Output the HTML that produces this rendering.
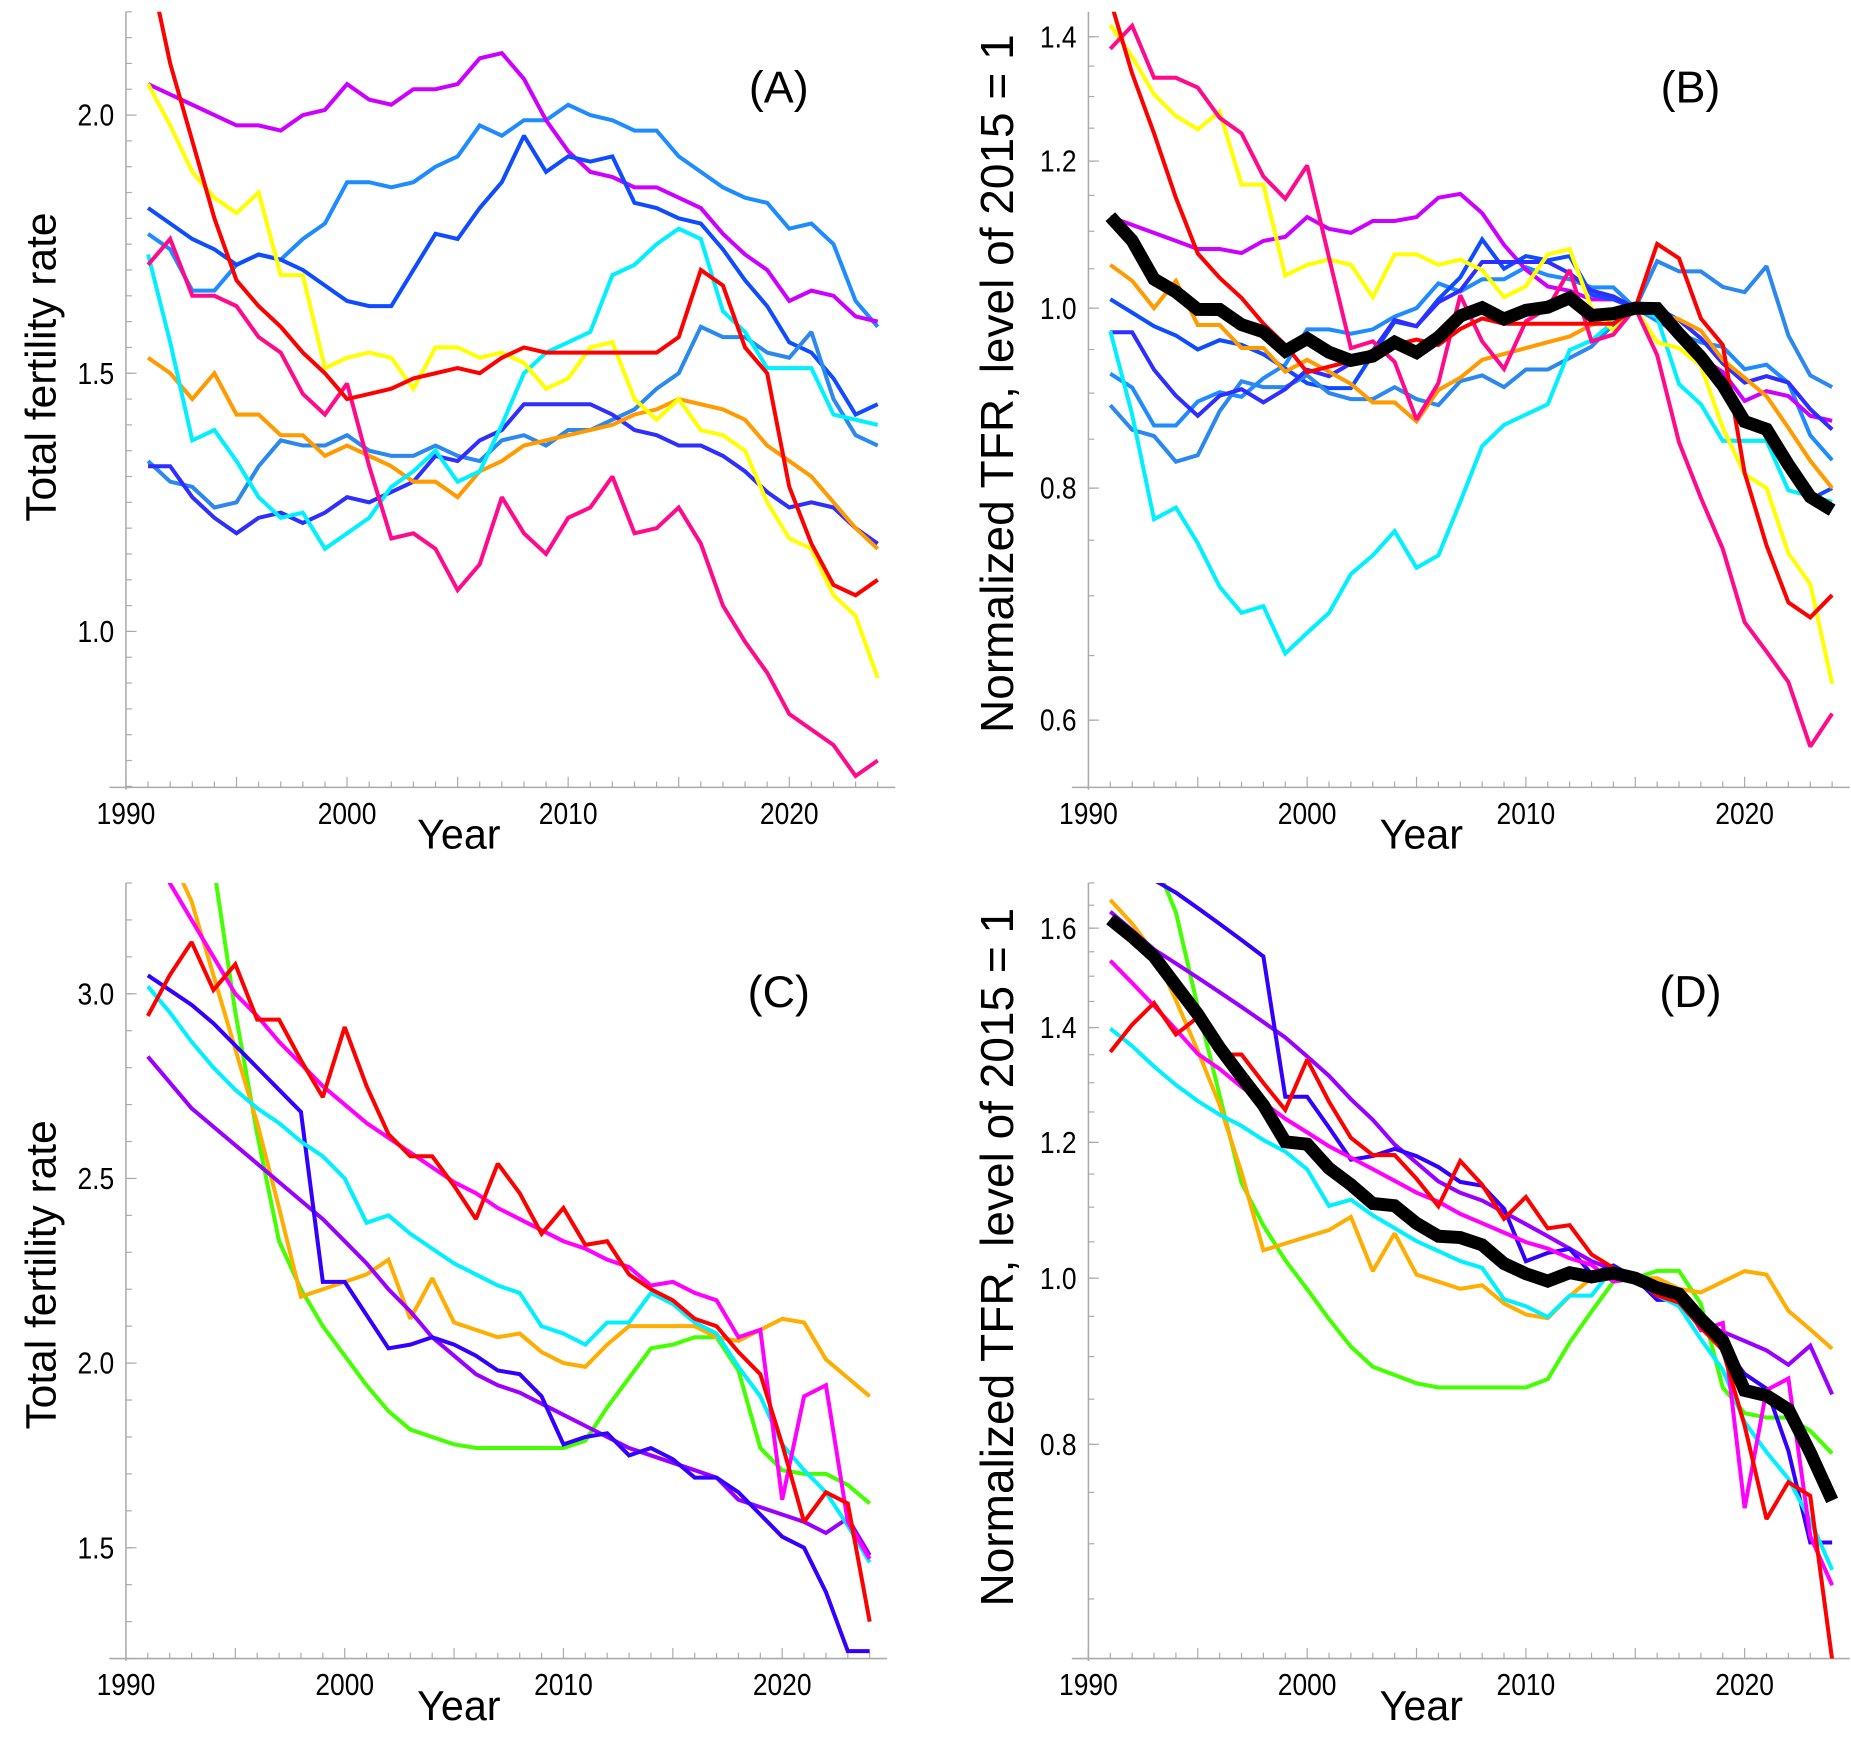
<!DOCTYPE html>
<html><head><meta charset="utf-8"><style>
html,body{margin:0;padding:0;background:#fff;}
svg{display:block;}
text{font-family:"Liberation Sans",Arial,sans-serif;fill:#000;}
</style></head><body>
<svg id="chart" width="1851" height="1757" viewBox="0 0 1568 1488.4" preserveAspectRatio="none" xmlns="http://www.w3.org/2000/svg"></svg>
<script>
const years = [1991,1992,1993,1994,1995,1996,1997,1998,1999,2000,2001,2002,2003,2004,2005,2006,2007,2008,2009,2010,2011,2012,2013,2014,2015,2016,2017,2018,2019,2020,2021,2022,2023,2024];
// Panel A series (TFR)
const aRed    = [2.30,2.10,1.95,1.80,1.68,1.63,1.59,1.54,1.50,1.45,1.46,1.47,1.49,1.50,1.51,1.50,1.53,1.55,1.54,1.54,1.54,1.54,1.54,1.54,1.57,1.70,1.67,1.55,1.50,1.28,1.17,1.09,1.07,1.10];
const aPink   = [1.71,1.76,1.65,1.65,1.63,1.57,1.54,1.46,1.42,1.48,1.32,1.18,1.19,1.16,1.08,1.13,1.26,1.19,1.15,1.22,1.24,1.30,1.19,1.20,1.24,1.17,1.05,0.98,0.92,0.84,0.81,0.78,0.72,0.75];
const aPurple = [2.06,2.04,2.02,2.00,1.98,1.98,1.97,2.00,2.01,2.06,2.03,2.02,2.05,2.05,2.06,2.11,2.12,2.07,1.99,1.93,1.89,1.88,1.86,1.86,1.84,1.82,1.77,1.73,1.70,1.64,1.66,1.65,1.61,1.60];
const aYellow = [2.06,1.98,1.89,1.84,1.81,1.85,1.69,1.69,1.51,1.53,1.54,1.53,1.47,1.55,1.55,1.53,1.54,1.52,1.47,1.49,1.55,1.56,1.45,1.41,1.45,1.39,1.38,1.35,1.25,1.18,1.16,1.07,1.03,0.91];
const aOrange = [1.53,1.50,1.45,1.50,1.42,1.42,1.38,1.38,1.34,1.36,1.34,1.32,1.29,1.29,1.26,1.31,1.33,1.36,1.37,1.38,1.39,1.40,1.42,1.43,1.45,1.44,1.43,1.41,1.36,1.33,1.30,1.25,1.20,1.16];
const aCyan   = [1.73,1.56,1.37,1.39,1.33,1.26,1.22,1.23,1.16,1.19,1.22,1.28,1.31,1.35,1.29,1.31,1.40,1.50,1.54,1.56,1.58,1.69,1.71,1.75,1.78,1.76,1.62,1.58,1.51,1.51,1.51,1.42,1.41,1.40];
const aSky    = [1.77,1.74,1.66,1.66,1.71,1.73,1.72,1.76,1.79,1.87,1.87,1.86,1.87,1.90,1.92,1.98,1.96,1.99,1.99,2.02,2.00,1.99,1.97,1.97,1.92,1.89,1.86,1.84,1.83,1.78,1.79,1.75,1.64,1.59];
const aBlue   = [1.82,1.79,1.76,1.74,1.71,1.73,1.72,1.70,1.67,1.64,1.63,1.63,1.70,1.77,1.76,1.82,1.87,1.96,1.89,1.92,1.91,1.92,1.83,1.82,1.80,1.79,1.74,1.68,1.63,1.56,1.54,1.49,1.42,1.44];
const aSky2   = [1.33,1.29,1.28,1.24,1.25,1.32,1.37,1.36,1.36,1.38,1.35,1.34,1.34,1.36,1.34,1.33,1.37,1.38,1.36,1.39,1.39,1.41,1.43,1.47,1.50,1.59,1.57,1.57,1.54,1.53,1.58,1.45,1.38,1.36];
const aBlue2  = [1.32,1.32,1.26,1.22,1.19,1.22,1.23,1.21,1.23,1.26,1.25,1.27,1.29,1.34,1.33,1.37,1.39,1.44,1.44,1.44,1.44,1.42,1.39,1.38,1.36,1.36,1.34,1.31,1.27,1.24,1.25,1.24,1.20,1.17];
// Panel C series (TFR)
const cRed    = [2.94,3.05,3.14,3.01,3.08,2.93,2.93,2.82,2.72,2.91,2.75,2.62,2.56,2.56,2.48,2.39,2.54,2.46,2.35,2.42,2.32,2.33,2.24,2.20,2.17,2.12,2.10,2.03,1.97,1.78,1.57,1.65,1.62,1.30];
const cMagenta= [3.40,3.30,3.20,3.10,3.00,2.94,2.87,2.81,2.75,2.70,2.65,2.61,2.57,2.53,2.49,2.46,2.42,2.39,2.36,2.33,2.31,2.28,2.26,2.21,2.22,2.19,2.17,2.07,2.09,1.63,1.91,1.94,1.57,1.47];
const cOrange = [3.49,3.38,3.25,3.05,2.85,2.65,2.42,2.18,2.20,2.22,2.24,2.28,2.12,2.23,2.11,2.09,2.07,2.08,2.03,2.00,1.99,2.05,2.10,2.10,2.10,2.10,2.07,2.06,2.09,2.12,2.11,2.01,1.96,1.91];
const cGreen  = [4.10,3.85,3.60,3.35,2.95,2.62,2.33,2.20,2.10,2.02,1.94,1.87,1.82,1.80,1.78,1.77,1.77,1.77,1.77,1.77,1.79,1.88,1.96,2.04,2.05,2.07,2.07,1.98,1.77,1.71,1.70,1.70,1.67,1.62];
const cCyan   = [3.02,2.95,2.87,2.80,2.74,2.69,2.65,2.60,2.56,2.50,2.38,2.40,2.35,2.31,2.27,2.24,2.21,2.19,2.10,2.08,2.05,2.11,2.11,2.19,2.16,2.11,2.08,1.99,1.91,1.78,1.71,1.65,1.56,1.46];
const cPurple = [2.83,2.76,2.69,2.64,2.59,2.54,2.49,2.44,2.39,2.33,2.27,2.20,2.14,2.07,2.02,1.97,1.94,1.92,1.89,1.86,1.83,1.80,1.77,1.75,1.73,1.71,1.69,1.63,1.61,1.59,1.57,1.54,1.58,1.48];
const cBlue   = [3.05,3.01,2.97,2.92,2.86,2.80,2.74,2.68,2.22,2.22,2.13,2.04,2.05,2.07,2.05,2.02,1.98,1.97,1.91,1.78,1.80,1.81,1.75,1.77,1.74,1.69,1.69,1.65,1.59,1.53,1.50,1.38,1.22,1.22];
const aTicks = [1.0,1.5,2.0];
const bTicks = [0.6,0.8,1.0,1.2,1.4];
const cTicks = [1.5,2.0,2.5,3.0];
const dTicks = [0.8,1.0,1.2,1.4,1.6];
const xTicks = [1990,2000,2010,2020];
const baseYear = 2015;

const NS = "http://www.w3.org/2000/svg";
const svg = document.getElementById('chart');
function mk(tag, attrs, parent){
  const e = document.createElementNS(NS, tag);
  for (const k in attrs) e.setAttribute(k, attrs[k]);
  (parent||svg).appendChild(e);
  return e;
}

const setsA = [
  {d:aSky,c:'#1e8cff',n:'series-a-skyblue'},{d:aPurple,c:'#cc00ff',n:'series-a-purple'},
  {d:aBlue,c:'#0f4cff',n:'series-a-blue'},{d:aSky2,c:'#2a88ee',n:'series-a-skyblue-2'},
  {d:aBlue2,c:'#2e2eff',n:'series-a-blue-2'},{d:aOrange,c:'#ff9a00',n:'series-a-orange'},
  {d:aCyan,c:'#00f0ff',n:'series-a-cyan'},{d:aYellow,c:'#ffff00',n:'series-a-yellow'},
  {d:aPink,c:'#ff0a8c',n:'series-a-pink'},{d:aRed,c:'#ff0000',n:'series-a-red'}];
const setsC = [
  {d:cGreen,c:'#44ff00',n:'series-c-green'},{d:cOrange,c:'#ffad00',n:'series-c-orange'},
  {d:cPurple,c:'#9a00ff',n:'series-c-purple'},{d:cBlue,c:'#3300ff',n:'series-c-blue'},
  {d:cCyan,c:'#00f0ff',n:'series-c-cyan'},{d:cMagenta,c:'#ff00ff',n:'series-c-magenta'},
  {d:cRed,c:'#ff0000',n:'series-c-red'}];

function panel(cfg){
  const g = mk('g',{});
  
  
  const x = yr => cfg.x0 + (yr-1990)*cfg.xs;
  const tf = v => cfg.log ? Math.log(v) : v;
  const y = v => cfg.yb - (tf(v)-tf(cfg.vmin))/(tf(cfg.vmax)-tf(cfg.vmin))*(cfg.yb-cfg.yt);
  const cid = 'clip-'+cfg.name;
  const cp = mk('clipPath',{id:cid},g);
  mk('rect',{x:cfg.x0,y:cfg.yt,width:x(2024.8)-cfg.x0,height:cfg.yb-cfg.yt},cp);
  const ya = mk('line',{x1:cfg.x0,y1:cfg.yt,x2:cfg.x0,y2:cfg.yb+2,stroke:'#aaa','stroke-width':1.3},g);
  
  
  const xa = mk('line',{x1:cfg.x0-14,y1:cfg.yb,x2:x(2024.8),y2:cfg.yb,stroke:'#aaa','stroke-width':1.3},g);
  
  
  for(let yr=1990; yr<=2024; yr++){
    const len = yr%5===0 ? 9 : 5;
    mk('line',{x1:x(yr),y1:cfg.yb,x2:x(yr),y2:cfg.yb-len,stroke:'#aaa','stroke-width':1},g);
  }
  xTicks.forEach(t=>{
    const tx = mk('text',{x:x(t),y:cfg.yb+31,'text-anchor':'middle','font-size':26,'transform':`translate(${x(t)},0) scale(0.86,1) translate(${-x(t)},0)`},g);
    tx.textContent = t;
    
    
  });
  for(let v=cfg.minorStart; v<=cfg.vmax+1e-9; v+=cfg.minorStep){
    if (v < cfg.vmin-1e-9) continue;
    mk('line',{x1:cfg.x0,y1:y(v),x2:cfg.x0+5,y2:y(v),stroke:'#aaa','stroke-width':1},g);
  }
  cfg.ticks.forEach(t=>{
    mk('line',{x1:cfg.x0,y1:y(t),x2:cfg.x0+9,y2:y(t),stroke:'#aaa','stroke-width':1},g);
    const tx = mk('text',{x:cfg.x0-10,y:y(t)+9,'text-anchor':'end','font-size':26,'transform':`translate(${cfg.x0-10},0) scale(0.86,1) translate(${-(cfg.x0-10)},0)`},g);
    tx.textContent = t.toFixed(1);
    
    
  });
  const xt = mk('text',{x:cfg.x0+282,y:cfg.yb+52,'text-anchor':'middle','font-size':35},g);
  xt.textContent='Year';
  
  
  const yc = cfg.ytc;
  const yti = mk('text',{x:0,y:0,'text-anchor':'middle','font-size':cfg.ytSize,transform:`translate(${cfg.ytx},${yc}) rotate(-90)`},g);
  yti.textContent=cfg.ytitle;
  
  
  const pl = mk('text',{x:cfg.x0+cfg.lx,y:cfg.yt+cfg.ly,'text-anchor':'middle','font-size':38},g);
  pl.textContent=cfg.label;
  
  
  const lg = mk('g',{'clip-path':`url(#${cid})`},g);
  cfg.series.forEach(s=>{
    const pts = s.d.map((v,i)=>x(years[i]).toFixed(2)+','+y(v).toFixed(2)).join(' ');
    const p = mk('polyline',{points:pts,fill:'none',stroke:s.c,'stroke-width':s.w||3.4,'stroke-linejoin':'miter','stroke-miterlimit':2},lg);
    
    
  });
}

function normalize(sets, pref){
  const bi = years.indexOf(baseYear);
  const out = sets.map(s=>({d:s.d.map(v=>v/s.d[bi]),c:s.c,n:s.n.replace('series-a',pref).replace('series-c',pref)}));
  const mean = years.map((_,i)=>out.reduce((a,s)=>a+s.d[i],0)/out.length);
  out.push({d:mean,c:'#000',w:11,n:pref+'-mean'});
  return out;
}

panel({name:'panel-a',label:'(A)',lx:553,ly:77,x0:106.7,xs:18.73,yt:10,yb:667,vmin:0.698,vmax:2.2,log:false,
  ticks:aTicks,minorStart:0.7,minorStep:0.05,ytitle:'Total fertility rate',ytx:47,ytc:311,ytSize:36,series:setsA});
panel({name:'panel-b',label:'(B)',lx:510,ly:77,x0:922,xs:18.53,yt:10,yb:667,vmin:0.552,vmax:1.444,log:true,
  ticks:bTicks,minorStart:0.6,minorStep:0.05,ytitle:'Normalized TFR, level of 2015 = 1',ytx:858,ytc:325,ytSize:39,series:normalize(setsA,'series-b')});
panel({name:'panel-c',label:'(C)',lx:553,ly:105,x0:106.7,xs:18.53,yt:748,yb:1405,vmin:1.2,vmax:3.3,log:false,
  ticks:cTicks,minorStart:1.2,minorStep:0.1,ytitle:'Total fertility rate',ytx:47,ytc:1080,ytSize:36,series:setsC});
panel({name:'panel-d',label:'(D)',lx:510,ly:105,x0:922,xs:18.53,yt:748,yb:1405,vmin:0.6,vmax:1.70,log:true,
  ticks:dTicks,minorStart:0.6,minorStep:0.05,ytitle:'Normalized TFR, level of 2015 = 1',ytx:858,ytc:1065,ytSize:39,series:normalize(setsC,'series-d')});
</script>
</body></html>
